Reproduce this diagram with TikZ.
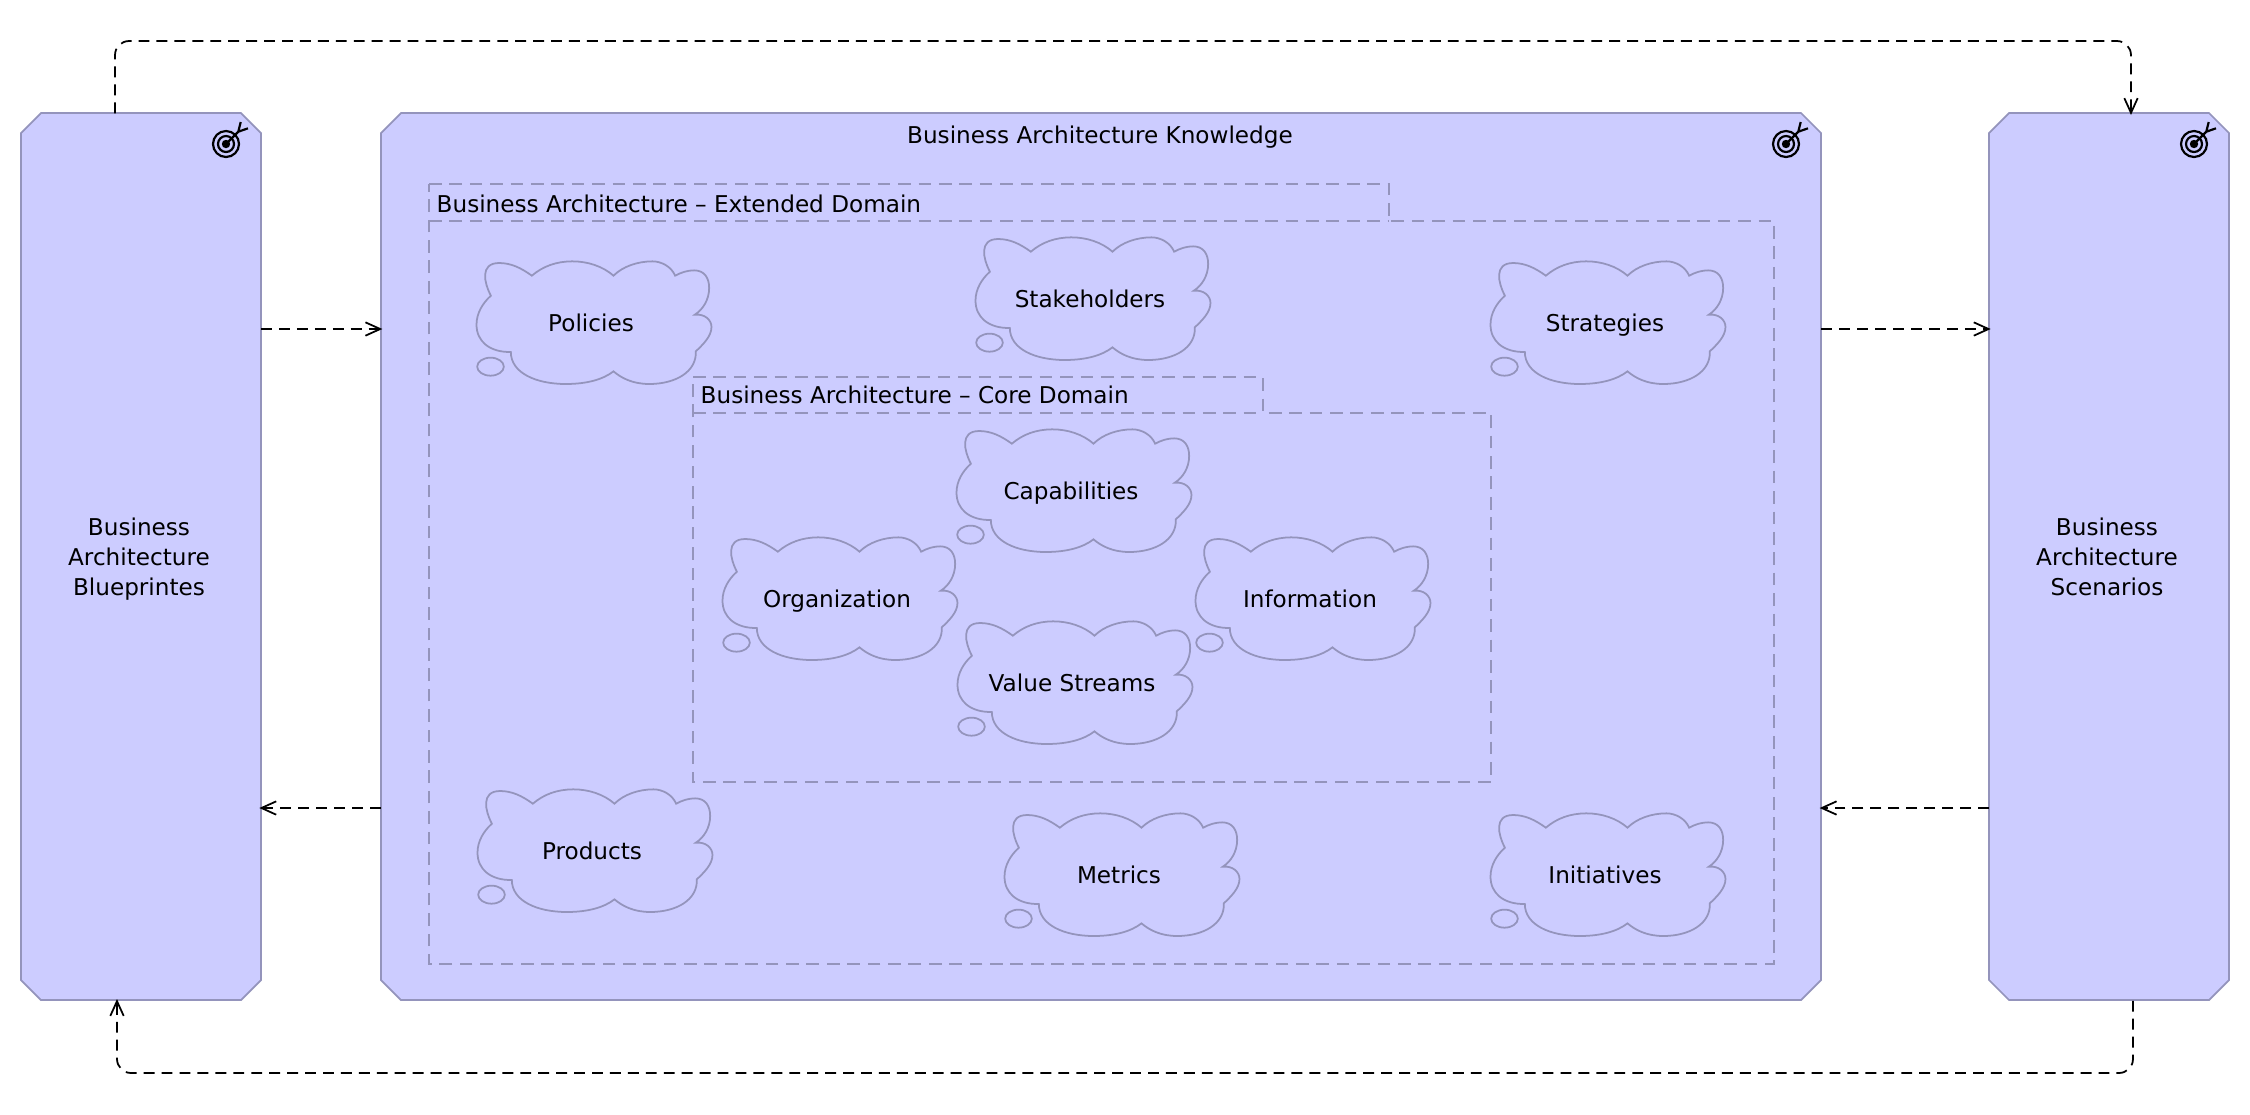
\documentclass[tikz,border=0pt]{standalone}
\usepackage{fontspec}
\setmainfont{DejaVu Sans}
\usetikzlibrary{arrows.meta}

\definecolor{motivfill}{HTML}{CCCCFF}
\definecolor{motivline}{HTML}{9494BC}

\tikzset{
  motivshape/.style={draw=motivline, fill=motivfill, line width=0.5pt},
  motivbox/.style={rectangle, inner sep=0pt, outer sep=0pt,
    minimum width=2.4cm, minimum height=8.87cm, align=center},
  label/.style={inner sep=0pt, text height=5pt, text depth=0pt, font=\fontsize{6.58}{8.5}\selectfont},
  dep/.style={dash pattern=on 3.1pt off 2pt, line width=0.5pt, rounded corners=4pt, shorten >=-0.5pt, ->},
  grp/.style={draw=motivline, line width=0.5pt, dash pattern=on 3.6pt off 2.2pt},
  pics/goal/.style={code={
    \draw[line width=0.62pt] (0,0) circle (13);
    \draw[line width=0.62pt] (0,0) circle (8);
    \fill (0,0) circle (4.2);
    \draw[line width=0.62pt] (0,0) -- (12.3,-12.3) -- (14.7,-22) (12.3,-12.3) -- (22,-15.7);
  }},
  pics/thought/.style={code={
    \begin{scope}[scale=0.3333]
      \draw[motivline, line width=0.5pt]
        (-296,-82) .. controls (-316,-120) and (-330,-180) .. (-271,-180)
        .. controls (-235,-180) and (-205,-165) .. (-173,-142)
        .. controls (-140,-170) and (-100,-185) .. (-51,-185)
        .. controls (-5,-185) and (40,-170) .. (72,-142)
        .. controls (100,-170) and (145,-185) .. (189,-185)
        .. controls (215,-185) and (245,-170) .. (257,-142)
        .. controls (275,-152) and (295,-158) .. (314,-158)
        .. controls (345,-158) and (359,-135) .. (359,-105)
        .. controls (359,-70) and (340,-40) .. (316,-25)
        .. controls (345,-28) and (366,-10) .. (366,12)
        .. controls (366,40) and (340,65) .. (319,85)
        .. controls (322,145) and (260,183) .. (179,183)
        .. controls (130,183) and (95,165) .. (72,145)
        .. controls (40,170) and (-10,183) .. (-71,183)
        .. controls (-160,183) and (-236,150) .. (-236,87)
        .. controls (-300,88) and (-339,55) .. (-339,5)
        .. controls (-339,-30) and (-320,-60) .. (-296,-82) -- cycle;
      \draw[motivline, line width=0.5pt] (-297,131) ellipse (40 and 27);
    \end{scope}
  }}
}

\begin{document}
\begin{tikzpicture}[x=0.01cm, y=-0.01cm, >={Straight Barb[length=4.2pt,width=3.8pt]}]
  \useasboundingbox (0,0) rectangle (2250,1114);

  % Outer boxes
  \foreach \xa/\xb in {21/261, 381/1821, 1989/2229} {
    \draw[motivshape] (\xa+20,113) -- (\xb-20,113) -- (\xb,133) -- (\xb,980) -- (\xb-20,1000)
      -- (\xa+20,1000) -- (\xa,980) -- (\xa,133) -- cycle;
  }
  \node[motivbox] (blueprints) at (141,557) {};
  \node[motivbox, minimum width=14.4cm] (knowledge) at (1101,557) {};
  \node[motivbox] (scenarios) at (2109,557) {};
  \node[label] (knowledgetitle) at (1100,135) {Business Architecture Knowledge};
  \node[label] (blueprintsa) at (139,527) {Business};
  \node[label] (blueprintsb) at (139,557) {Architecture};
  \node[label] (blueprintsc) at (139,587) {Blueprintes};
  \node[label] (scenariosa) at (2107,527) {Business};
  \node[label] (scenariosb) at (2107,557) {Architecture};
  \node[label] (scenariosc) at (2107,587) {Scenarios};

  % Goal icons
  \pic at (226,144) {goal};
  \pic at (1786,144) {goal};
  \pic at (2194,144) {goal};

  % Domains
  \draw[grp] (429,184) -- (1389,184) -- (1389,221) -- (1774,221) -- (1774,964) -- (429,964) -- cycle;
  \draw[grp] (429,221) -- (1389,221);
  \node[label, anchor=west] (extendedtitle) at (436,204) {Business Architecture – Extended Domain};
  \draw[grp] (693,377) -- (1263,377) -- (1263,413) -- (1491,413) -- (1491,782) -- (693,782) -- cycle;
  \draw[grp] (693,413) -- (1263,413);
  \node[label, anchor=west] (coretitle) at (700,395) {Business Architecture – Core Domain};

  % Thoughts
  \foreach \name/\px/\py/\txt in {policies/591/323/Policies, stakeholders/1090/299/Stakeholders,
      strategies/1605/323/Strategies, capabilities/1071/491/Capabilities,
      organization/837/599/Organization, information/1310/599/Information,
      valuestreams/1072/683/Value Streams, products/592/851/Products,
      metrics/1119/875/Metrics, initiatives/1605/875/Initiatives} {
    \pic at (\px-1.5,\py) {thought};
    \node[label] (\name) at (\px,\py) {\txt};
  }

  % Connectors
  \coordinate (topL) at (115,41);
  \coordinate (topR) at (2131,41);
  \coordinate (botL) at (117,1073);
  \coordinate (botR) at (2133,1073);
  \coordinate (upper) at (0,329);
  \coordinate (lower) at (0,808);
  \draw[dep] (blueprints.north -| topL) -- (topL) -- (topR) -- (scenarios.north -| topR);
  \draw[dep] (scenarios.south -| botR) -- (botR) -- (botL) -- (blueprints.south -| botL);
  \draw[dep] (blueprints.east |- upper) -- (knowledge.west |- upper);
  \draw[dep] (knowledge.east |- upper) -- (scenarios.west |- upper);
  \draw[dep] (scenarios.west |- lower) -- (knowledge.east |- lower);
  \draw[dep] (knowledge.west |- lower) -- (blueprints.east |- lower);
\end{tikzpicture}
\end{document}
